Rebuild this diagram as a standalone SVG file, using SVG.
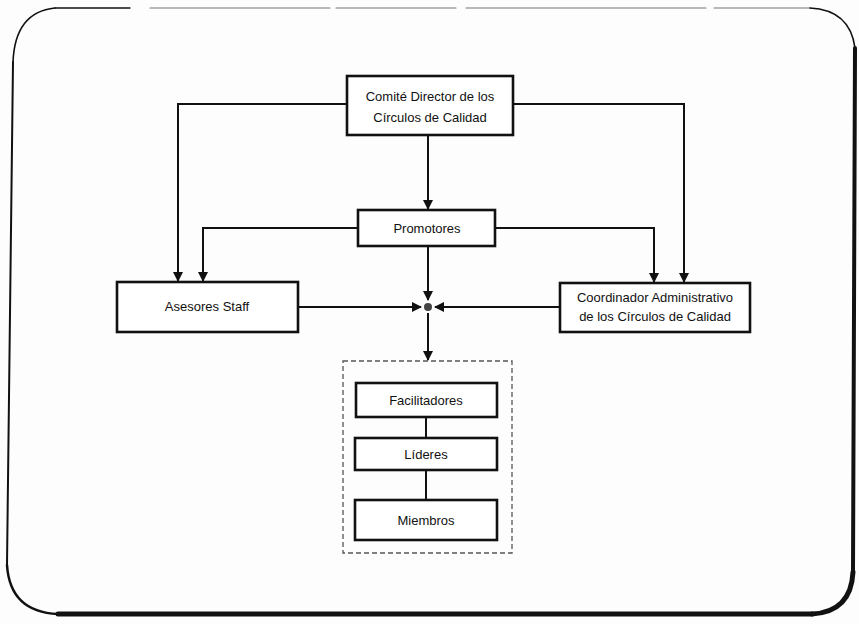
<svg xmlns="http://www.w3.org/2000/svg" width="859" height="624" viewBox="0 0 859 624">
  <defs>
    <marker id="arrow" viewBox="0 0 10 10" refX="9" refY="5" markerWidth="5" markerHeight="5" orient="auto" markerUnits="strokeWidth">
      <path d="M0,0 L10,5 L0,10 z" fill="#111"/>
    </marker>
    <style>
      .node { fill: #fff; stroke: #111; stroke-width: 2.6; }
      .label { font-family: "Liberation Sans", Arial, sans-serif; font-size: 13px; fill: #111; text-anchor: middle; }
      .link { fill: none; stroke: #111; stroke-width: 2; }
      .arr { marker-end: url(#arrow); }
    </style>
  </defs>

  <rect x="0" y="0" width="859" height="624" fill="#fdfdfd"/>

  <!-- outer frame -->
  <g id="frame" fill="none" stroke="#111" stroke-linecap="round">
    <path d="M55,8 L130,8" stroke-width="1.4"/>
    <path d="M150,8 L810,8" stroke-width="1.1" stroke="#777" stroke-dasharray="180,6,120,10,240,8"/>
    <path d="M13,62 Q15,12 55,8" stroke-width="1.6"/>
    <path d="M810,8 Q850,10 855,48" stroke-width="1.6"/>
    <path d="M13,62 L7,565" stroke-width="2"/>
    <path d="M7,565 Q10,612 58,614" stroke-width="2.5"/>
    <path d="M58,614 L812,614" stroke-width="5"/>
    <path d="M812,614 Q851,612 853,572" stroke-width="5"/>
    <path d="M855,48 L853,572" stroke-width="4"/>
  </g>

  <!-- connectors -->
  <g id="connectors">
    <path class="link arr" d="M347,104 L178,104 L178,281"/>
    <path class="link arr" d="M513,104 L684,104 L684,282"/>
    <path class="link arr" d="M428,135 L428,209"/>
    <path class="link arr" d="M358,228 L203,228 L203,281"/>
    <path class="link arr" d="M495,228 L654,228 L654,282" stroke="#333"/>
    <path class="link arr" d="M428,246 L428,300"/>
    <path class="link arr" d="M298,307 L421,307"/>
    <path class="link arr" d="M560,307 L435,307"/>
    <path class="link arr" d="M428,313 L428,360"/>
    <path class="link" d="M426,417 L426,438"/>
    <path class="link" d="M426,470 L426,500"/>
    <circle cx="428" cy="307" r="4" fill="#444"/>
  </g>

  <!-- dashed grouping of circle members -->
  <g id="group-circulo">
    <rect x="343" y="361" width="169" height="192" fill="none" stroke="#555" stroke-width="1.3" stroke-dasharray="5,3"/>
  </g>

  <g id="comite">
    <rect class="node" x="347" y="76" width="166" height="59"/>
    <text class="label" x="430" y="101">Comité Director de los</text>
    <text class="label" x="430" y="122">Círculos de Calidad</text>
  </g>

  <g id="promotores">
    <rect class="node" x="358" y="210" width="137" height="36"/>
    <text class="label" x="427" y="233">Promotores</text>
  </g>

  <g id="asesores">
    <rect class="node" x="117" y="282" width="181" height="50"/>
    <text class="label" x="207" y="311">Asesores Staff</text>
  </g>

  <g id="coordinador">
    <rect class="node" x="560" y="283" width="190" height="49"/>
    <text class="label" x="655" y="302">Coordinador Administrativo</text>
    <text class="label" x="655" y="321">de los Círculos de Calidad</text>
  </g>

  <g id="facilitadores">
    <rect class="node" x="356" y="383" width="141" height="34"/>
    <text class="label" x="426" y="405">Facilitadores</text>
  </g>

  <g id="lideres">
    <rect class="node" x="355" y="438" width="142" height="32"/>
    <text class="label" x="426" y="459">Líderes</text>
  </g>

  <g id="miembros">
    <rect class="node" x="355" y="500" width="142" height="40"/>
    <text class="label" x="426" y="525">Miembros</text>
  </g>
</svg>
